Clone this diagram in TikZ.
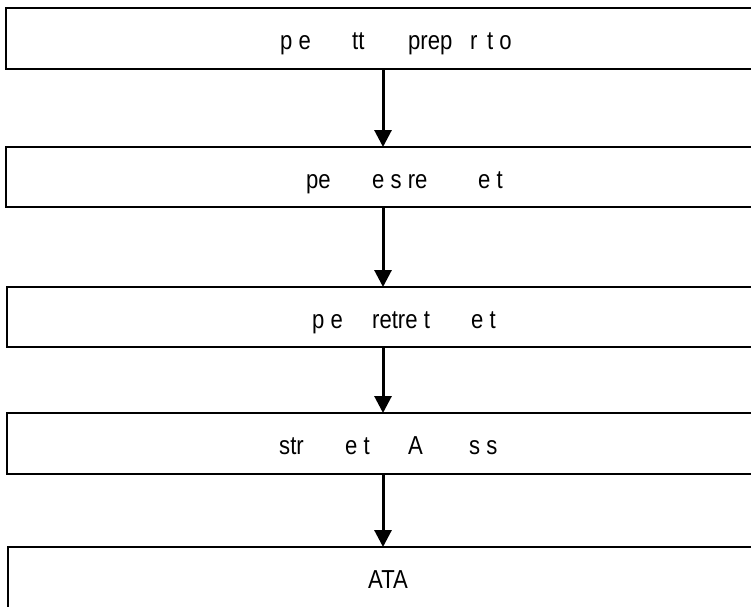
\documentclass[tikz,border=0pt]{standalone}
\usepackage{fontspec}
\setmainfont{Liberation Sans}[FakeStretch=0.85]
\usetikzlibrary{arrows.meta}
\tikzset{
  box/.style={draw=black, line width=2pt, rectangle, inner sep=0pt, outer sep=0pt, anchor=north west},
  arr/.style={draw=black, line width=3pt, -{Triangle[width=17pt,length=17pt]}},
  lbl/.style={anchor=base west, inner sep=0pt, font=\fontsize{26}{30}\selectfont}
}
\begin{document}
\begin{tikzpicture}[x=1pt,y=-1pt]
\useasboundingbox (0,0) rectangle (751,606);
\clip (0,0) rectangle (751,606);
\node[box, minimum width=794pt, minimum height=61pt] (b1) at (6,8) {};
\node[box, minimum width=794pt, minimum height=60pt] (b2) at (6,147) {};
\node[box, minimum width=793pt, minimum height=60pt] (b3) at (7,287) {};
\node[box, minimum width=793pt, minimum height=61pt] (b4) at (7,413) {};
\node[box, minimum width=792pt, minimum height=61pt] (b5) at (8,547) {};
\coordinate (ax) at (383,0);
\draw[arr] (b1.south -| ax) -- (b2.north -| ax);
\draw[arr] (b2.south -| ax) -- (b3.north -| ax);
\draw[arr] (b3.south -| ax) -- (b4.north -| ax);
\draw[arr] (b4.south -| ax) -- (b5.north -| ax);
\node[lbl] (t1) at (280,49) {\makebox[72pt][l]{p e}\makebox[56pt][l]{tt}\makebox[62pt][l]{prep}\makebox[17pt][l]{r}t o};
\node[lbl] (t2) at (306,188) {\makebox[66pt][l]{pe}\makebox[106pt][l]{e s re}e t};
\node[lbl] (t3) at (312,328) {\makebox[60pt][l]{p e}\makebox[99pt][l]{retre t}e t};
\node[lbl] (t4) at (279,454) {\makebox[66pt][l]{str}\makebox[63pt][l]{e t}\makebox[61pt][l]{A}s s};
\node[lbl] (t5) at (368,588) {ATA};
\end{tikzpicture}
\end{document}
